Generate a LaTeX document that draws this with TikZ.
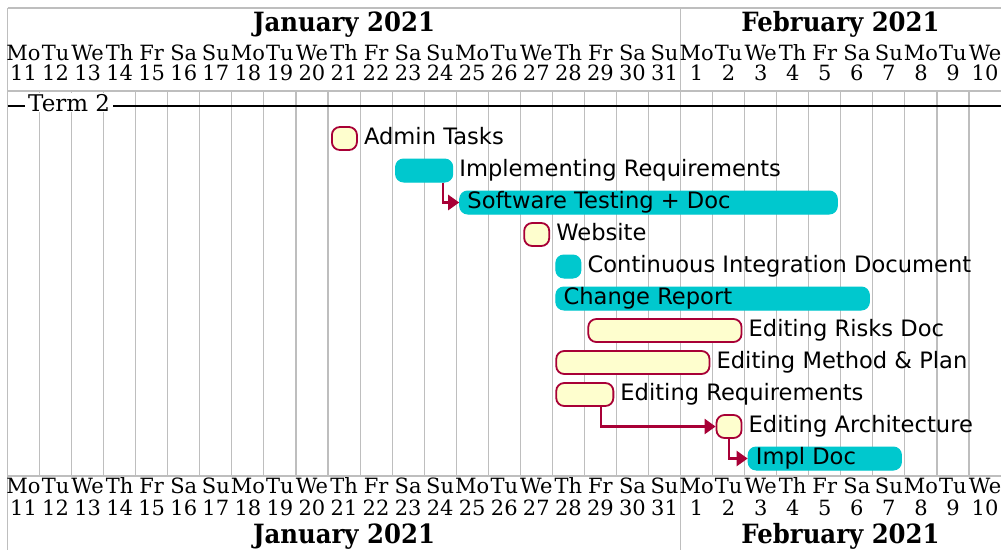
\documentclass[tikz,border=0pt]{standalone}
\usepackage{fontspec}
\usepackage{graphicx}
\setmainfont{DejaVu Serif}
\newfontfamily\tsans{DejaVu Sans}
\usetikzlibrary{arrows.meta}
\definecolor{crfill}{HTML}{FEFECE}
\definecolor{crline}{HTML}{A80036}
\definecolor{cyanbar}{RGB}{0,200,206}
\definecolor{gridc}{HTML}{BEBEBE}
\newcommand\gbar[7]{% name, start, end, row, style, label, inside(1)/outside(0)
  \pgfmathsetmacro\gxa{7.5+32.05*#2+3}%
  \pgfmathsetmacro\gxb{7.5+32.05*(#3+1)-4}%
  \pgfmathsetmacro\gyc{138.5+32*#4}%
  \pgfmathsetmacro\gwd{\gxb-\gxa}%
  \node[#5, minimum width=\gwd pt, anchor=west] (#1) at (\gxa,\gyc) {};
  \ifnum#7=1
    \node[tasklbl] (#1-l) at ([xshift=8pt]#1.west) {#6};
  \else
    \node[tasklbl] (#1-l) at ([xshift=6pt]#1.east) {#6};
  \fi
}
\begin{document}
\begin{tikzpicture}[x=1pt,y=-1pt,
  gridline/.style={draw=gridc, line width=1.1pt},
  creambar/.style={rectangle, rounded corners=8pt, fill=crfill, draw=crline, line width=1.8pt, minimum height=23pt, inner sep=0pt},
  cyanbox/.style={rectangle, rounded corners=8pt, fill=cyanbar, draw=cyanbar, line width=1pt, minimum height=23pt, inner sep=0pt},
  tasklbl/.style={anchor=west, inner xsep=0pt, inner ysep=0pt, text height=16.5pt, text depth=5.1pt, font=\tsans\fontsize{22.6}{27}\selectfont},
  daylbl/.style={anchor=base, inner sep=0pt, font=\fontsize{21}{24}\selectfont},
  monthlbl/.style={anchor=base, inner sep=0pt, font=\bfseries\fontsize{26.5}{30}\selectfont},
  dep/.style={draw=crline, line width=2.4pt, -{Triangle[length=11pt,width=15pt]}}]
\useasboundingbox (0,0) rectangle (1001,550);
\fill[white] (0,0) rectangle (1001,550);
% grid
\foreach \i in {1,...,31} {
  \draw[gridline] ({7.5+32.05*\i},91) -- ({7.5+32.05*\i},476);
}
\draw[gridline] (7.5,8) -- (7.5,550);
\draw[gridline] (7.5,8) -- (1001,8);
\draw[gridline] (7.5,91) -- (1001,91);
\draw[gridline] (7.5,476) -- (1001,476);
\draw[gridline] (680.55,8) -- (680.55,91);
\draw[gridline] (680.55,476) -- (680.55,550);
% day labels
\foreach \nm/\dn [count=\i from 0] in {Mo/11,Tu/12,We/13,Th/14,Fr/15,Sa/16,Su/17,Mo/18,Tu/19,We/20,Th/21,Fr/22,Sa/23,Su/24,Mo/25,Tu/26,We/27,Th/28,Fr/29,Sa/30,Su/31,Mo/1,Tu/2,We/3,Th/4,Fr/5,Sa/6,Su/7,Mo/8,Tu/9,We/10} {
  \node[daylbl] (tn\i) at ({7.5+32.05*(\i+0.5)},60) {\nm};
  \node[daylbl] (td\i) at ({7.5+32.05*(\i+0.5)},80) {\dn};
  \node[daylbl] (bn\i) at ({7.5+32.05*(\i+0.5)},493) {\nm};
  \node[daylbl] (bd\i) at ({7.5+32.05*(\i+0.5)},515) {\dn};
}
% month titles
\node[monthlbl] (mjan) at (344,31) {\scalebox{0.92}[1]{January 2021}};
\node[monthlbl] (mfeb) at (840.5,31) {\scalebox{0.92}[1]{February 2021}};
\node[monthlbl] (mjanb) at (344,543) {\scalebox{0.92}[1]{January 2021}};
\node[monthlbl] (mfebb) at (840.5,543) {\scalebox{0.92}[1]{February 2021}};
% separator
\draw[line width=1.6pt, black] (7.5,106) -- (1001,106);
\node[anchor=base west, fill=white, inner xsep=3pt, inner ysep=1pt, font=\fontsize{23}{26}\selectfont] (term) at (25,111) {Term 2};
% tasks
\gbar{admin}{10}{10}{0}{creambar}{Admin Tasks}{0}
\gbar{implreq}{12}{13}{1}{cyanbox}{Implementing Requirements}{0}
\gbar{swtest}{14}{25}{2}{cyanbox}{Software Testing + Doc}{1}
\gbar{website}{16}{16}{3}{creambar}{Website}{0}
\gbar{ci}{17}{17}{4}{cyanbox}{Continuous Integration Document}{0}
\gbar{change}{17}{26}{5}{cyanbox}{Change Report}{1}
\gbar{risks}{18}{22}{6}{creambar}{Editing Risks Doc}{0}
\gbar{method}{17}{21}{7}{creambar}{Editing Method \& Plan}{0}
\gbar{ereq}{17}{18}{8}{creambar}{Editing Requirements}{0}
\gbar{arch}{22}{22}{9}{creambar}{Editing Architecture}{0}
\gbar{impldoc}{23}{27}{10}{cyanbox}{Impl Doc}{1}
% dependencies
\draw[dep] ([xshift=-10pt]implreq.south east) |- (swtest.west);
\draw[dep] ([xshift=-13pt]ereq.south east) |- (arch.west);
\draw[dep] (arch.south) |- (impldoc.west);
\end{tikzpicture}
\end{document}
